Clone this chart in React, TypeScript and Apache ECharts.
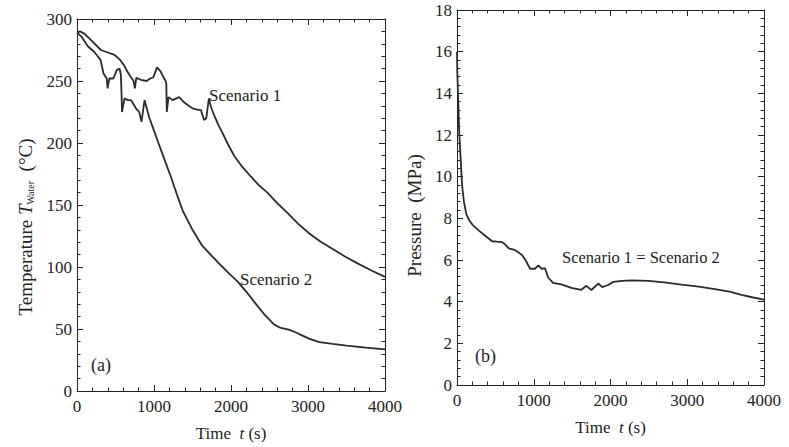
import React, { useEffect, useRef } from "react";
import * as echarts from "echarts";

// Panel (a): water temperature, Scenario 1
const s1Time = [0, 40, 99, 183, 310, 400, 488, 560, 608, 650, 690, 735, 752, 770, 830, 905, 950, 992, 1039, 1083, 1120, 1150, 1160, 1166, 1188, 1240, 1290, 1326, 1395, 1450, 1501, 1560, 1610, 1650, 1679, 1713, 1740, 1790, 1840, 1883, 1960, 2043, 2150, 2257, 2360, 2473, 2600, 2726, 2870, 3017, 3160, 3310, 3480, 3656, 3830, 4000];
const s1Temp = [289, 290, 288, 283, 275, 273, 271, 267, 263, 258, 254, 250, 244, 252.5, 251, 250, 252, 253, 261, 258, 253.5, 250, 248, 225, 237, 234.6, 236, 237, 232.6, 230, 228, 227, 226.5, 218.5, 220, 236, 229, 221, 214, 209, 199, 189.5, 180.5, 173, 166, 160, 151.5, 144, 135, 127, 120.5, 115, 108.5, 102.5, 97, 92];

// Panel (a): water temperature, Scenario 2
const s2Time = [0, 55, 140, 222, 306, 344, 386, 397, 420, 472, 518, 553, 570, 580, 584, 617, 660, 703, 765, 808, 838, 877, 936, 1000, 1057, 1140, 1218, 1300, 1376, 1500, 1622, 1750, 1875, 1980, 2090, 2200, 2304, 2430, 2557, 2634, 2750, 2853, 2900, 3020, 3148, 3320, 3500, 3750, 4000];
const s2Temp = [289, 286, 278, 273.6, 267, 256, 252, 244, 252, 252, 259, 260, 255, 237, 225, 236, 234.6, 234.6, 228, 225, 217, 234.6, 221, 210, 200, 186, 173, 158, 145, 130, 117.5, 109, 101, 94.5, 88, 80, 71.7, 62, 53.7, 51.2, 49.5, 47, 45.5, 42, 39.4, 38, 36.6, 35, 33.5];

// Panel (b): pressure (Scenario 1 = Scenario 2)
const pTime = [0, 4, 12, 28, 51, 66, 90, 121, 160, 200, 289, 375, 458, 520, 588, 632, 675, 760, 847, 900, 952, 1016, 1060, 1103, 1147, 1187, 1252, 1360, 1490, 1620, 1686, 1751, 1840, 1892, 1970, 2036, 2150, 2275, 2493, 2700, 2924, 3150, 3360, 3550, 3707, 3860, 4000];
const pVal = [16.0, 15.0, 14.1, 12.2, 10.6, 9.6, 8.8, 8.2, 7.9, 7.7, 7.4, 7.14, 6.9, 6.88, 6.86, 6.73, 6.56, 6.47, 6.24, 5.95, 5.58, 5.58, 5.74, 5.58, 5.6, 5.16, 4.9, 4.83, 4.66, 4.57, 4.76, 4.56, 4.87, 4.7, 4.8, 4.95, 5.0, 5.02, 5.0, 4.93, 4.82, 4.72, 4.6, 4.48, 4.33, 4.2, 4.1];

const FONT = "'Liberation Serif', 'DejaVu Serif', serif";
const INK = "#222";
const LINE = "#2b2b2b";

const zip = (xs: number[], ys: number[]) => xs.map((x, i) => [x, ys[i]]);
const plain = (v: number) => String(v);

function xAxes(gridIndex: number) {
  const common = {
    type: "value",
    gridIndex,
    min: 0,
    max: 4000,
    interval: 1000,
    splitLine: { show: false },
    axisLine: { show: true, onZero: false, lineStyle: { color: INK, width: 1 } },
    axisTick: { show: true, inside: true, length: 6, lineStyle: { color: INK } },
    minorTick: { show: true, splitNumber: 5, length: 3.5, lineStyle: { color: INK } },
  };
  return [
    {
      ...common,
      position: "bottom",
      axisLabel: { show: true, margin: 7, color: INK, fontFamily: FONT, fontSize: 17, formatter: plain },
      name: "{a|Time  }{it|t}{a| (s)}",
      nameLocation: "middle",
      nameGap: 34,
      nameTextStyle: {
        color: INK,
        fontFamily: FONT,
        fontSize: 17,
        rich: {
          a: { fontFamily: FONT, fontSize: 17, color: INK },
          it: { fontFamily: FONT, fontSize: 17, color: INK, fontStyle: "italic" },
        },
      },
    },
    { ...common, position: "top", axisLabel: { show: false } },
  ];
}

function yAxes(gridIndex: number, max: number, interval: number, name: string, rich: any, gap: number, shift: number) {
  const common = {
    type: "value",
    gridIndex,
    min: 0,
    max,
    interval,
    splitLine: { show: false },
    axisLine: { show: true, onZero: false, lineStyle: { color: INK, width: 1 } },
    axisTick: { show: true, inside: true, length: 6, lineStyle: { color: INK } },
    minorTick: { show: true, splitNumber: 5, length: 3.5, lineStyle: { color: INK } },
  };
  return [
    {
      ...common,
      position: "left",
      axisLabel: { show: true, margin: 5, color: INK, fontFamily: FONT, fontSize: 17, formatter: plain },
      name,
      nameLocation: "middle",
      nameGap: gap,
      nameTextStyle: {
        color: INK,
        fontFamily: FONT,
        fontSize: 19,
        padding: [0, shift, 0, 0],
        rich,
      },
    },
    { ...common, position: "right", axisLabel: { show: false } },
  ];
}

export default function App() {
  const ref = useRef<HTMLDivElement>(null);

  useEffect(() => {
    if (!ref.current) return;
    const chart = echarts.init(ref.current, null, { renderer: "svg" });

    const tempRich = {
      a: { fontFamily: FONT, fontSize: 19, color: INK },
      it: { fontFamily: FONT, fontSize: 19, color: INK, fontStyle: "italic" },
      sub: { fontFamily: FONT, fontSize: 10, color: INK, verticalAlign: "bottom", padding: [7, 0, 0, 0] },
    };
    const presRich = {
      a: { fontFamily: FONT, fontSize: 19, color: INK },
    };

    const labelStyle = { fill: INK, font: `17px ${FONT}`, textVerticalAlign: "middle" };

    chart.setOption({
      animation: false,
      backgroundColor: "#ffffff",
      grid: [
        { left: 77, top: 19, width: 308, height: 374 },
        { left: 457, top: 10, width: 307, height: 375 },
      ],
      xAxis: [...xAxes(0), ...xAxes(1)],
      yAxis: [
        ...yAxes(0, 300, 50, "{a|Temperature }{it|T}{sub|Water}{a|  (°C)}", tempRich, 42, 44),
        ...yAxes(1, 18, 2, "{a|Pressure  (MPa)}", presRich, 33, 36),
      ],
      series: [
        {
          name: "Scenario 1",
          type: "line",
          xAxisIndex: 0,
          yAxisIndex: 0,
          data: zip(s1Time, s1Temp),
          showSymbol: false,
          lineStyle: { color: LINE, width: 1.8 },
        },
        {
          name: "Scenario 2",
          type: "line",
          xAxisIndex: 0,
          yAxisIndex: 0,
          data: zip(s2Time, s2Temp),
          showSymbol: false,
          lineStyle: { color: LINE, width: 1.8 },
        },
        {
          name: "Scenario 1 = Scenario 2",
          type: "line",
          xAxisIndex: 2,
          yAxisIndex: 2,
          data: zip(pTime, pVal),
          showSymbol: false,
          lineStyle: { color: LINE, width: 1.8 },
        },
      ],
      graphic: [
        { type: "text", left: 209, top: 87, style: { text: "Scenario 1", ...labelStyle } },
        { type: "text", left: 240, top: 271, style: { text: "Scenario 2", ...labelStyle } },
        { type: "text", left: 91, top: 356, style: { text: "(a)", ...labelStyle, font: `18px ${FONT}` } },
        { type: "text", left: 562, top: 249, style: { text: "Scenario 1 = Scenario 2", ...labelStyle, font: `16.5px ${FONT}` } },
        { type: "text", left: 475, top: 347, style: { text: "(b)", ...labelStyle, font: `18px ${FONT}` } },
      ],
    });

    return () => chart.dispose();
  }, []);

  return (
    <div
      ref={ref}
      style={{ position: "fixed", left: 0, top: 0, width: 789, height: 447, background: "#fff" }}
    />
  );
}
